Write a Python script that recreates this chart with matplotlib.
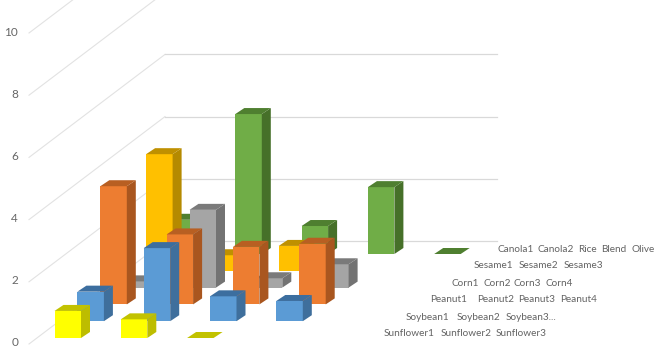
import matplotlib
matplotlib.use("Agg")
import matplotlib.pyplot as plt
from matplotlib.patches import Polygon

plt.rcParams['font.family'] = ['Lato', 'DejaVu Sans']

# series run front to back
sunflower_labels = ['Sunflower1', 'Sunflower2', 'Sunflower3']
soybean_labels = ['Soybean1', 'Soybean2', 'Soybean3...']
peanut_labels = ['Peanut1', 'Peanut2', 'Peanut3', 'Peanut4']
corn_labels = ['Corn1', 'Corn2', 'Corn3', 'Corn4']
sesame_labels = ['Sesame1', 'Sesame2', 'Sesame3']
canola_labels = ['Canola1', 'Canola2', 'Rice', 'Blend', 'Olive']

sunflower = [0.87, 0.6, 0]
soybean = [0.95, 2.35, 0.8, 0.65]
peanut = [3.8, 2.25, 1.85, 1.95]
corn = [0.2, 2.5, 0.3, 0.75]
sesame = [3.75, 0.5, 0.8]
canola = [1.1, 4.5, 0.9, 2.15, 0]

y_ticks = [0, 2, 4, 6, 8, 10]

# front, side, top colours
colors = [('#FFFF00', '#BDBD00', '#C2C200'),
          ('#5B9BD5', '#3F6F9C', '#3C6E9F'),
          ('#ED7D31', '#A9561F', '#B85F22'),
          ('#A5A5A5', '#737373', '#7A7A7A'),
          ('#FFC000', '#B58A00', '#BF9000'),
          ('#70AD47', '#467029', '#4F7F30')]

series = [sunflower, soybean, peanut, corn, sesame, canola]
labels = [sunflower_labels, soybean_labels, peanut_labels, corn_labels, sesame_labels, canola_labels]
label_x = [[384, 441, 496], [406, 457, 506], [430, 477, 518, 560],
           [452, 483, 514, 545], [474, 519, 564], [497, 538, 578, 601, 631]]
label_y = [334, 317, 300, 283, 266, 249]

# oblique projection, everything in image pixels
UNIT = 31.1
BASE_X, BASE_Y = 54.5, 338
STEP_X = 66.3
ROW_X, ROW_Y = 22.9, 16.8
BAR_W = 26.5
DEPTH_X, DEPTH_Y = 9, 6


def project(cat, row, value):
    return BASE_X + cat * STEP_X + row * ROW_X, BASE_Y - row * ROW_Y - value * UNIT


fig = plt.figure(figsize=(6.68, 3.61), dpi=100)
ax = fig.add_axes([0, 0, 1, 1])
ax.set_xlim(0, 668)
ax.set_ylim(361, 0)
ax.axis('off')

# floor and wall gridlines
for t in y_ticks:
    y = 344 - t * UNIT
    ax.plot([29, 165], [y, y - 103], color='#E2E2E2', lw=0.8, zorder=1)
    ax.plot([165, 497], [y - 103, y - 103], color='#D9D9D9', lw=0.9, zorder=1)
    ax.text(18, y - 1, str(t), ha='right', va='center', fontsize=8.5, color='#666666')

# back row first so the nearer bars cover it
for row in range(len(series) - 1, -1, -1):
    front, side, top = colors[row]
    for cat, v in enumerate(series[row]):
        x0, y0 = project(cat, row, 0)
        x1, y1 = project(cat, row, v)
        x2 = x1 + BAR_W
        if v > 0:
            ax.add_patch(Polygon([(x1, y0), (x2, y0), (x2, y1), (x1, y1)], fc=front, ec='none', zorder=2))
            ax.add_patch(Polygon([(x2, y0), (x2 + DEPTH_X, y0 - DEPTH_Y), (x2 + DEPTH_X, y1 - DEPTH_Y), (x2, y1)],
                                 fc=side, ec='none', zorder=2))
        ax.add_patch(Polygon([(x1, y1), (x2, y1), (x2 + DEPTH_X, y1 - DEPTH_Y), (x1 + DEPTH_X, y1 - DEPTH_Y)],
                             fc=top, ec='none', zorder=2))

for row, names in enumerate(labels):
    for name, x in zip(names, label_x[row]):
        ax.text(x, label_y[row], name, ha='left', va='center', fontsize=7.2, color='#636363', zorder=3)

fig.savefig('out.png', dpi=100)
